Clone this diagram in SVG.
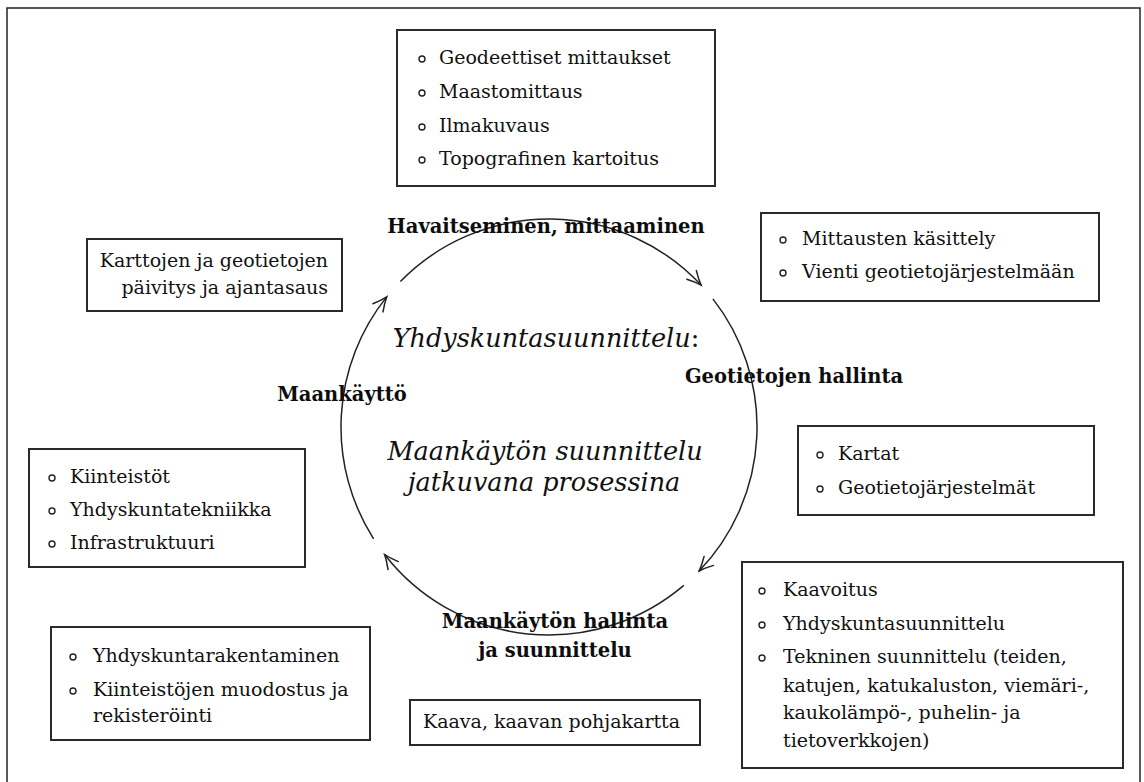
<svg xmlns="http://www.w3.org/2000/svg" width="1144" height="782" viewBox="0 0 1144 782">
<style>
.bg{fill:#fff}
.frame{fill:none;stroke:#222;stroke-width:1.5}
.box{fill:#fff;stroke:#2a2a2a;stroke-width:2}
.t{font-family:"DejaVu Serif","Liberation Serif",serif;font-size:19px;fill:#111}
.b{font-family:"DejaVu Serif","Liberation Serif",serif;font-size:19.5px;font-weight:bold;fill:#0d0d0d}
.i{font-family:"DejaVu Serif","Liberation Serif",serif;font-size:25.5px;font-style:italic;fill:#111}
.bu{fill:none;stroke:#222;stroke-width:1.4}
.arc{fill:none;stroke:#222;stroke-width:1.5;marker-end:url(#ah)}
</style>
<defs>
<marker id="ah" viewBox="-16 -8 18 16" markerWidth="18" markerHeight="16" refX="0" refY="0" orient="auto" markerUnits="userSpaceOnUse">
<path d="M-14,-6.5 Q-6,-2 0,0 Q-6,2 -14,6.5" fill="none" stroke="#222" stroke-width="1.5" stroke-linecap="round"/>
</marker>
</defs>
<rect class="bg" x="0" y="0" width="1144" height="782"/>
<rect class="frame" x="7" y="8" width="1133" height="790"/>

<g id="connectors">
<path class="arc" d="M400.4,281.5 A208,208 0 0 1 701.1,285.1"/>
<path class="arc" d="M712.9,298.9 A208,208 0 0 1 699.1,571.0"/>
<path class="arc" d="M683.8,585.4 A208,208 0 0 1 384.6,554.5"/>
<path class="arc" d="M373.6,538.8 A208,208 0 0 1 386.7,296.9"/>
</g>

<g id="label-havaitseminen"><text class="b" x="546" y="233" text-anchor="middle">Havaitseminen, mittaaminen</text></g>
<g id="label-geotietojen"><text class="b" x="794" y="383" text-anchor="middle">Geotietojen hallinta</text></g>
<g id="label-maankayton-hallinta"><text class="b" x="555" y="628" text-anchor="middle">Maankäytön hallinta</text><text class="b" x="555" y="657" text-anchor="middle">ja suunnittelu</text></g>
<g id="label-maankaytto"><text class="b" x="342" y="401" text-anchor="middle">Maankäyttö</text></g>

<g id="center">
<text class="i" x="546" y="347" text-anchor="middle">Yhdyskuntasuunnittelu<tspan font-style="normal">:</tspan></text>
<text class="i" x="545" y="460" text-anchor="middle">Maankäytön suunnittelu</text>
<text class="i" x="544" y="491" text-anchor="middle">jatkuvana prosessina</text>
</g>

<g id="box-top">
<rect class="box" x="397" y="30" width="318" height="156"/>
<circle class="bu" cx="422" cy="59" r="3"/><text class="t" x="439" y="64">Geodeettiset mittaukset</text>
<circle class="bu" cx="422" cy="93" r="3"/><text class="t" x="439" y="98">Maastomittaus</text>
<circle class="bu" cx="422" cy="127" r="3"/><text class="t" x="439" y="132">Ilmakuvaus</text>
<circle class="bu" cx="422" cy="160" r="3"/><text class="t" x="439" y="165">Topografinen kartoitus</text>
</g>

<g id="box-karttojen">
<rect class="box" x="87" y="239" width="255" height="72"/>
<text class="t" x="328" y="267" text-anchor="end">Karttojen ja geotietojen</text>
<text class="t" x="328" y="294" text-anchor="end">päivitys ja ajantasaus</text>
</g>

<g id="box-mittausten">
<rect class="box" x="761" y="213" width="338" height="88"/>
<circle class="bu" cx="783" cy="240" r="3"/><text class="t" x="802" y="245">Mittausten käsittely</text>
<circle class="bu" cx="783" cy="273" r="3"/><text class="t" x="802" y="278">Vienti geotietojärjestelmään</text>
</g>

<g id="box-kiinteistot">
<rect class="box" x="29" y="449" width="276" height="118"/>
<circle class="bu" cx="52" cy="478" r="3"/><text class="t" x="70" y="483">Kiinteistöt</text>
<circle class="bu" cx="52" cy="511" r="3"/><text class="t" x="70" y="516">Yhdyskuntatekniikka</text>
<circle class="bu" cx="52" cy="544" r="3"/><text class="t" x="70" y="549">Infrastruktuuri</text>
</g>

<g id="box-kartat">
<rect class="box" x="798" y="426" width="296" height="89"/>
<circle class="bu" cx="820" cy="455" r="3"/><text class="t" x="838" y="460">Kartat</text>
<circle class="bu" cx="820" cy="489" r="3"/><text class="t" x="838" y="494">Geotietojärjestelmät</text>
</g>

<g id="box-kaavoitus">
<rect class="box" x="742" y="562" width="381" height="206"/>
<circle class="bu" cx="762" cy="591" r="3"/><text class="t" x="783" y="596">Kaavoitus</text>
<circle class="bu" cx="762" cy="625" r="3"/><text class="t" x="783" y="630">Yhdyskuntasuunnittelu</text>
<circle class="bu" cx="762" cy="658" r="3"/><text class="t" x="783" y="663">Tekninen suunnittelu (teiden,</text>
<text class="t" x="783" y="692">katujen, katukaluston, viemäri-,</text>
<text class="t" x="783" y="719">kaukolämpö-, puhelin- ja</text>
<text class="t" x="783" y="747">tietoverkkojen)</text>
</g>

<g id="box-yhdyskuntarakentaminen">
<rect class="box" x="51" y="627" width="319" height="113"/>
<circle class="bu" cx="73" cy="657" r="3"/><text class="t" x="93" y="662">Yhdyskuntarakentaminen</text>
<circle class="bu" cx="73" cy="691" r="3"/><text class="t" x="93" y="696">Kiinteistöjen muodostus ja</text>
<text class="t" x="93" y="722">rekisteröinti</text>
</g>

<g id="box-kaava">
<rect class="box" x="410" y="700" width="290" height="45"/>
<text class="t" x="423" y="728">Kaava, kaavan pohjakartta</text>
</g>
</svg>
